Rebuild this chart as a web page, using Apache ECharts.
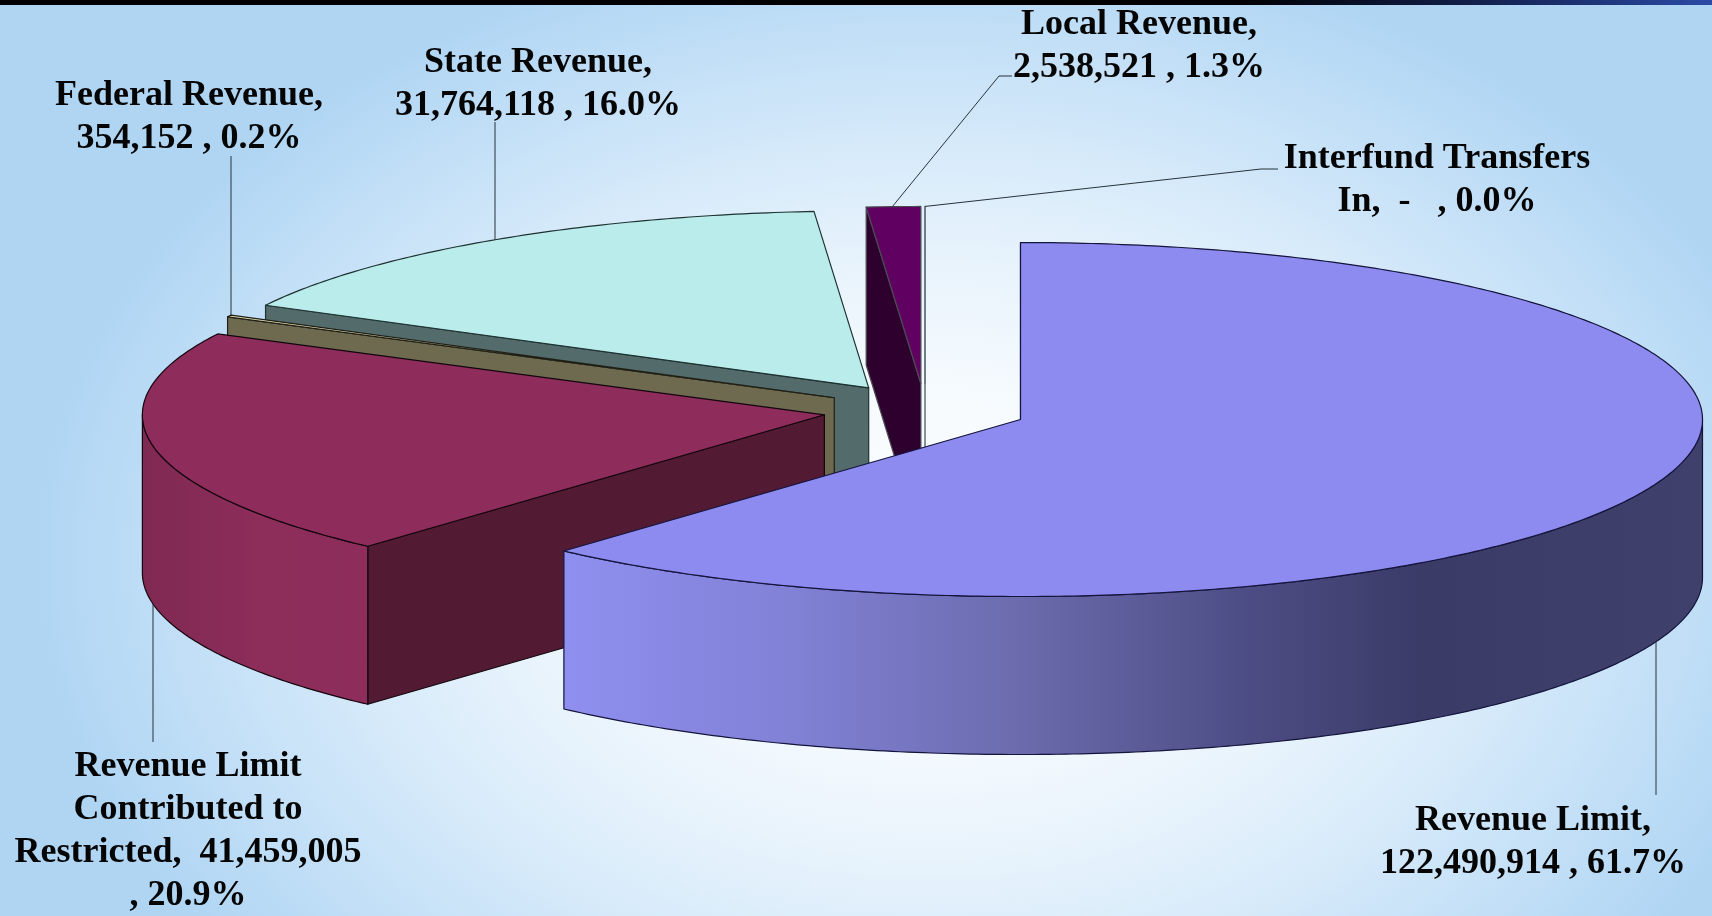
<!DOCTYPE html>
<html><head><meta charset="utf-8">
<style>
html,body{margin:0;padding:0;width:1712px;height:916px;overflow:hidden;
background:radial-gradient(ellipse 900px 630px at 930px 560px,#ffffff 0%,#f5fafe 28%,#eaf4fc 45%,#d8ebfa 64%,#c4e0f7 82%,#afd5f3 100%);}
#chart{width:1712px;height:916px;}
</style>
<script src="https://cdn.jsdelivr.net/npm/echarts@6/dist/echarts.min.js"></script>
</head><body><div id="chart"></div>
<script>
// ---- data ----
const categories = ['Revenue Limit','Revenue Limit Contributed to Restricted','Federal Revenue','State Revenue','Local Revenue','Interfund Transfers In'];
const values = [122490914,41459005,354152,31764118,2538521,0];
const labelTexts = [
  'Revenue Limit,\n122,490,914 , 61.7%',
  'Revenue Limit\nContributed to\nRestricted,  41,459,005\n, 20.9%',
  'Federal Revenue,\n354,152 , 0.2%',
  'State Revenue,\n31,764,118 , 16.0%',
  'Local Revenue,\n2,538,521 , 1.3%',
  'Interfund Transfers\nIn,  -   , 0.0%'
];

// ---- pie geometry and look ----
const PIE = {cx:925, cy:410, rx:682, ry:177, depth:158, explode:0.15};
const FONT = 'bold 36px "Liberation Serif", serif';
const LINE_H = 43;
const looks = [
  {top:'#8d8bef', face:'#8d8bef', stroke:'#14143c', wall:[[0,'#40406c'],[0.25,'#3b3b68'],[0.4,'#4d4d85'],[0.6,'#6b6bad'],[0.8,'#8181d6'],[1,'#8f8ff0']]},
  {top:'#8e2d5b', face:'#521b33', stroke:'#14060e', wall:[[0,'#7f2952'],[0.5,'#8c2d5a'],[1,'#8e2d5b']]},
  {top:'#e6dfb4', face:'#6e6a50', stroke:'#1e1e14', wall:[[0,'#6e6a50'],[1,'#6e6a50']]},
  {top:'#b9ecea', face:'#536b6b', stroke:'#1e3232', wall:[[0,'#536b6b'],[1,'#536b6b']]},
  {top:'#600060', face:'#2d002e', stroke:'#4a4a52', wall:[[0,'#2d002e'],[1,'#2d002e']]},
  {top:'#ffffff', face:'#ffffff', stroke:'#6a7a80', wall:[[0,'#ffffff'],[1,'#ffffff']]}
];
// label box (centre x, top y); vertical leaders drop from stubX to the slice outline,
// the others run from a rim angle through the listed elbows.
const labelPlace = [
  {x:1533, y:799, stubX:1656, stubY:795, front:true},
  {x:188,  y:745, stubX:153,  stubY:742, front:true},
  {x:189,  y:74,  stubX:231,  stubY:156, front:false},
  {x:538,  y:41,  stubX:495,  stubY:122, front:false},
  {x:1139, y:3,   rimDeg:357.6, elbows:[[999,76],[1012,76]]},
  {x:1437, y:137, rimDeg:360,   elbows:[[1261,169],[1278,169]]}
];

// ---- slices built from the values ----
const total = values.reduce((a,b)=>a+b,0);
let running = 0;
const seriesData = values.map((v,i)=>{
  const a = running/total*360; running += v; const b = running/total*360;
  return {name:categories[i], value:[i,a,b,v]};
});
const rad = d=>d*Math.PI/180;

function sliceGroup(params, api){
  const i = api.value(0), a = api.value(1), b = api.value(2);
  const mid = rad((a+b)/2);
  const ox = PIE.cx + PIE.explode*PIE.rx*Math.sin(mid);
  const oy = PIE.cy - PIE.explode*PIE.ry*Math.cos(mid);
  const rim = (d,low)=>[ox+PIE.rx*Math.sin(rad(d)), oy-PIE.ry*Math.cos(rad(d))+(low?PIE.depth:0)];
  const arc = (from,to,low)=>{
    const n = Math.max(1,Math.ceil((to-from)*1.5)), pts=[];
    for(let k=0;k<=n;k++) pts.push(rim(from+(to-from)*k/n,low));
    return pts;
  };
  const look = looks[i], children = [];
  const base = (values.length-i)*10;
  const line = {stroke:look.stroke, lineWidth:i===5?1.6:1.2, lineJoin:'round'};
  // start cut face, visible when it turns toward the viewer
  if(Math.sin(rad(a))<1e-9){
    children.push({type:'polygon', z2:base+1, shape:{points:[rim(a,false),[ox,oy],[ox,oy+PIE.depth],rim(a,true)]},
      style:Object.assign({fill:look.face},line)});
  }
  // end cut face
  if(Math.sin(rad(b))>1e-9){
    children.push({type:'polygon', z2:base+1, shape:{points:[rim(b,false),[ox,oy],[ox,oy+PIE.depth],rim(b,true)]},
      style:Object.assign({fill:look.face},line)});
  }
  // outer wall for the near half of the ellipse
  const f = Math.max(a,90), t = Math.min(b,270);
  if(t>f){
    children.push({type:'polygon', z2:base+2,
      shape:{points:arc(f,t,false).concat(arc(f,t,true).reverse())},
      style:Object.assign({fill:new echarts.graphic.LinearGradient(0,0,1,0,
        look.wall.map(s=>({offset:i===0?1-s[0]:s[0],color:s[1]})).sort((p,q)=>p.offset-q.offset))},line)});
  }
  // top surface
  children.push({type:'polygon', z2:base+3, shape:{points:[[ox,oy]].concat(arc(a,b,false))},
    style:Object.assign({fill:look.top},line)});
  // leader and label
  const place = labelPlace[i];
  let pts;
  if(place.stubX!==undefined){
    const u = (place.stubX-ox)/PIE.rx, h = PIE.ry*Math.sqrt(1-u*u);
    const yHit = place.front ? oy+PIE.depth+h : oy-h;
    pts = [[place.stubX,yHit],[place.stubX,place.stubY]];
  } else {
    pts = [rim(place.rimDeg,false)].concat(place.elbows);
  }
  children.push({type:'polyline', z2:200, shape:{points:pts},
    style:{fill:'none',stroke:'#26323a',lineWidth:1}});
  children.push({type:'text', z2:201, style:{text:labelTexts[i], x:place.x, y:place.y,
    font:FONT, fill:'#050505', align:'center', verticalAlign:'top', lineHeight:LINE_H}});
  return {type:'group', children};
}

const chart = echarts.init(document.getElementById('chart'), null, {renderer:'canvas'});
chart.setOption({
  backgroundColor:'transparent',
  animation:false,
  graphic:[{type:'rect', left:0, top:0, z:50, silent:true, shape:{width:1712,height:5},
    style:{fill:new echarts.graphic.LinearGradient(0,0,1,0,[
      {offset:0,color:'#000000'},{offset:0.72,color:'#000000'},{offset:0.85,color:'#101c44'},{offset:1,color:'#2c4aa6'}])}}],
  series:[{type:'custom', coordinateSystem:'none', silent:true, clip:false,
    encode:{value:3}, data:seriesData, renderItem:sliceGroup}]
});
</script></body></html>
